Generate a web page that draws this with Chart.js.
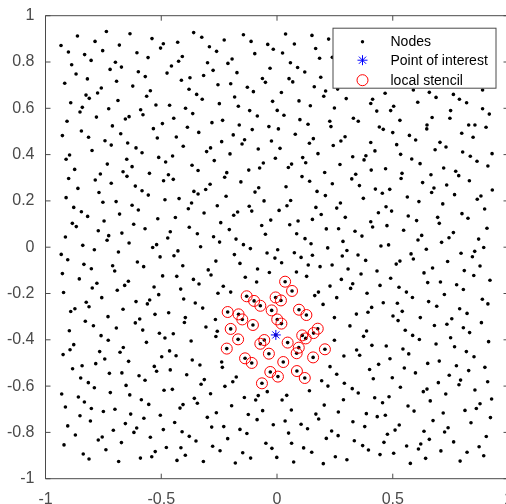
<!DOCTYPE html>
<html>
<head>
<meta charset="utf-8">
<title>Nodes and local stencil</title>
<script src="https://cdn.jsdelivr.net/npm/chart.js@4.4.1/dist/chart.umd.min.js"></script>
<style>
  html, body { margin: 0; padding: 0; background: #fff; overflow: hidden; }
  #wrap { width: 520px; height: 504px; }
</style>
</head>
<body>
<div id="wrap"><canvas id="nodesPlot"></canvas></div>
<script>
// scattered nodes, written band by band from the top left
const nodeX = [
  -0.933,-0.862,-0.901,-0.737,-0.786,-0.635,-0.681,-0.753,-0.831,-0.803,-0.887,-0.868,-0.917,-0.819,-0.698,-0.721,-0.672,-0.693,-0.605,-0.557,-0.540,-0.503,-0.491,-0.429,-0.409,-0.425,-0.456,-0.475,-0.599,-0.569,-0.623,-0.547,-0.563,-0.413,-0.376,-0.380,-0.759,-0.775,-0.825,-0.811,-0.891,-0.841,-0.851,-0.727,-0.687,-0.589,-0.579,-0.523,-0.464,-0.395,-0.907,-0.780,-0.655,-0.639,-0.711,-0.845,-0.534,-0.495,-0.446,-0.387,
  -0.360,-0.325,-0.292,-0.261,-0.228,-0.145,-0.112,-0.040,-0.016,0.024,-0.096,0.037,0.075,0.151,0.167,0.223,0.184,0.239,-0.300,-0.276,-0.317,-0.212,-0.194,-0.173,-0.030,0.058,0.089,0.120,-0.255,-0.200,-0.128,-0.102,-0.063,-0.050,0.052,0.068,0.189,0.161,0.210,0.202,0.262,0.299,-0.347,-0.323,-0.183,0.019,-0.019,0.095,0.144,0.248,-0.249,-0.167,-0.118,-0.085,0.001,0.030,-0.364,-0.235,-0.281,-0.163,-0.107,-0.035,0.006,0.099,0.134,0.228,0.233,-0.338,
  0.467,0.413,0.405,0.504,0.491,0.431,0.330,0.351,0.531,0.442,0.459,0.589,0.658,0.687,0.762,0.788,0.819,0.888,0.608,0.750,0.888,0.917,0.670,0.747,0.648,0.647,0.828,0.855,0.903,
  -0.927,-0.814,-0.675,-0.517,-0.435,-0.743,-0.716,-0.645,-0.609,-0.583,-0.799,-0.911,-0.896,-0.733,-0.649,-0.511,-0.481,-0.451,-0.405,-0.874,-0.763,-0.785,-0.665,-0.626,-0.648,-0.551,-0.469,-0.448,-0.490,-0.367,-0.900,-0.860,-0.716,-0.612,-0.583,-0.556,-0.911,-0.769,-0.752,-0.695,-0.680,-0.626,-0.599,-0.484,-0.423,-0.383,-0.369,-0.878,-0.845,-0.818,-0.884,-0.867,-0.747,-0.772,-0.727,-0.734,-0.670,-0.619,-0.570,-0.515,-0.439,-0.379,-0.461,-0.472,-0.520,-0.537,-0.914,-0.839,-0.789,-0.639,-0.685,-0.428,
  -0.189,0.079,0.157,0.140,0.294,0.276,0.243,-0.239,-0.140,-0.151,-0.024,-0.287,-0.304,-0.203,-0.081,0.013,-0.271,-0.341,-0.217,-0.226,-0.156,-0.122,-0.075,-0.059,-0.007,0.049,0.063,0.111,0.124,0.177,0.272,0.108,0.141,0.206,0.239,0.323,-0.359,-0.341,-0.308,-0.289,-0.220,-0.095,-0.079,0.039,0.173,0.209,-0.258,-0.315,-0.187,-0.170,-0.120,-0.109,-0.056,0.009,0.043,0.059,0.168,0.191,0.258,0.274,0.295,-0.243,-0.206,-0.066,-0.027,0.055,0.091,0.153,0.213,0.266,-0.344,-0.274,-0.248,-0.177,-0.145,-0.115,-0.050,0.085,0.121,0.147,0.219,0.285,0.302,-0.330,0.003,
  0.500,0.572,0.599,0.798,0.847,0.405,0.423,0.384,0.376,0.327,0.517,0.534,0.582,0.618,0.704,0.730,0.683,0.802,0.835,0.864,0.929,0.911,0.340,0.407,0.469,0.540,0.536,0.629,0.665,0.678,0.668,0.720,0.733,0.772,0.785,0.831,0.767,0.865,0.881,0.930,0.897,0.356,0.425,0.455,0.487,0.373,0.563,0.613,0.716,0.471,0.495,0.438,0.567,0.603,0.694,0.701,0.799,0.825,0.405,0.413,0.475,0.547,0.337,0.367,0.625,0.609,0.762,0.743,0.711,0.907,0.871,0.893,0.449,0.482,0.645,0.854,
  -0.932,-0.904,-0.505,-0.445,-0.834,-0.802,-0.710,-0.701,-0.603,-0.576,-0.407,-0.927,-0.854,-0.494,-0.433,-0.798,-0.778,-0.922,-0.690,-0.658,-0.642,-0.531,-0.511,-0.416,-0.403,-0.757,-0.824,-0.812,-0.609,-0.560,-0.550,-0.891,-0.873,-0.665,-0.730,-0.527,-0.468,-0.396,-0.400,-0.828,-0.793,-0.612,-0.593,-0.694,-0.580,-0.897,-0.760,-0.729,-0.564,-0.508,-0.484,-0.448,-0.371,-0.878,-0.894,-0.924,-0.766,-0.664,-0.678,-0.744,-0.641,-0.464,-0.436,-0.498,-0.366,-0.883,-0.842,-0.783,-0.530,-0.520,-0.461,
  -0.184,-0.043,-0.009,0.075,0.104,0.153,0.282,-0.264,-0.160,-0.297,-0.285,-0.361,-0.337,-0.137,-0.084,-0.033,0.020,0.084,0.128,0.135,0.186,0.238,0.307,0.278,-0.232,-0.255,-0.200,-0.088,0.179,0.163,0.229,-0.353,-0.321,0.199,0.258,0.248,-0.266,-0.307,-0.258,-0.264,0.248,0.289,-0.239,-0.236,-0.333,0.229,
  0.350,0.383,0.579,0.589,0.515,0.531,0.795,0.844,0.737,0.877,0.363,0.432,0.491,0.635,0.672,0.809,0.850,0.920,0.327,0.445,0.389,0.527,0.559,0.585,0.651,0.706,0.776,0.805,0.723,0.459,0.520,0.541,0.655,0.690,0.409,0.343,0.393,0.501,0.523,0.619,0.789,0.821,0.887,0.911,0.755,0.734,0.680,0.883,0.805,0.832,0.387,0.374,0.554,0.586,0.615,0.750,0.687,0.767,0.914,0.410,0.472,0.544,0.569,0.344,0.357,0.488,0.439,0.400,0.550,0.651,0.701,0.818,0.851,0.775,0.828,0.898,0.318,0.315,
  -0.724,-0.670,-0.596,-0.570,-0.390,-0.848,-0.815,-0.789,-0.652,-0.930,-0.720,-0.636,-0.858,-0.832,-0.914,-0.802,-0.750,-0.700,-0.586,-0.554,-0.488,-0.452,-0.419,-0.406,-0.851,-0.806,-0.632,-0.575,-0.504,-0.904,-0.655,-0.618,-0.606,-0.491,-0.442,-0.410,-0.379,-0.871,-0.707,-0.547,-0.772,-0.755,-0.672,-0.920,-0.739,-0.478,-0.415,-0.837,-0.812,-0.684,-0.590,-0.541,-0.526,-0.432,-0.396,
  -0.328,-0.314,-0.225,-0.191,-0.176,-0.042,-0.357,-0.344,-0.287,-0.141,-0.092,-0.081,0.022,0.042,0.140,0.193,0.220,0.258,0.291,0.325,-0.196,-0.062,0.062,0.204,0.287,0.265,-0.301,-0.262,-0.124,-0.086,0.035,0.168,0.180,-0.282,-0.230,-0.160,-0.130,-0.016,0.104,0.132,0.050,0.236,0.264,0.213,-0.350,-0.278,-0.246,-0.213,-0.148,-0.048,-0.022,0.063,0.115,0.150,-0.114,-0.001,-0.318,-0.180,0.072,0.200,0.252,0.302,
  0.598,0.416,0.498,0.744,0.793,0.786,0.697,0.910,0.351,0.533,0.632,0.648,0.729,0.855,0.422,0.456,0.484,0.662,0.927,0.877,0.861,0.566,0.592,0.812,0.718,0.386,0.433,0.468,0.328,0.379,0.674,0.838,0.922,0.528,0.510,0.477,0.635,0.724,0.739,0.763,0.904,0.334,0.370,0.395,0.462,0.445,0.504,0.560,0.621,0.611,0.658,0.708,0.642,0.576,0.821,0.873,0.893,0.791
];
const nodeY = [
  0.871,0.912,0.843,0.932,0.889,0.922,0.873,0.849,0.832,0.807,0.788,0.748,0.708,0.727,0.799,0.768,0.778,0.717,0.840,0.819,0.901,0.860,0.879,0.885,0.824,0.803,0.783,0.752,0.758,0.737,0.696,0.676,0.652,0.721,0.732,0.682,0.688,0.666,0.657,0.643,0.624,0.604,0.584,0.598,0.634,0.594,0.572,0.614,0.613,0.600,0.544,0.562,0.554,0.564,0.524,0.502,0.512,0.534,0.557,0.518,
  0.927,0.907,0.866,0.846,0.895,0.918,0.889,0.876,0.855,0.839,0.836,0.921,0.878,0.915,0.858,0.899,0.816,0.820,0.797,0.764,0.742,0.794,0.813,0.754,0.773,0.797,0.776,0.757,0.702,0.706,0.691,0.672,0.729,0.712,0.728,0.714,0.734,0.693,0.675,0.652,0.683,0.642,0.660,0.639,0.649,0.668,0.630,0.632,0.611,0.601,0.620,0.609,0.590,0.567,0.591,0.570,0.577,0.548,0.538,0.528,0.508,0.521,0.511,0.551,0.531,0.544,0.521,0.496,
  0.665,0.639,0.621,0.609,0.590,0.588,0.557,0.544,0.548,0.519,0.509,0.679,0.669,0.647,0.660,0.639,0.624,0.679,0.626,0.590,0.598,0.575,0.560,0.557,0.528,0.511,0.528,0.528,0.518,
  0.482,0.475,0.490,0.472,0.476,0.460,0.441,0.450,0.429,0.408,0.418,0.380,0.398,0.359,0.380,0.388,0.368,0.394,0.436,0.336,0.316,0.290,0.326,0.348,0.306,0.319,0.313,0.293,0.287,0.354,0.297,0.254,0.276,0.264,0.244,0.225,0.214,0.236,0.194,0.197,0.143,0.181,0.161,0.205,0.210,0.166,0.191,0.172,0.153,0.133,0.103,0.089,0.113,0.071,0.050,0.030,0.061,0.099,0.080,0.123,0.128,0.086,0.067,0.040,0.011,-0.001,0.044,0.008,-0.011,0.018,-0.021,-0.016,
  0.485,0.488,0.469,0.449,0.477,0.459,0.439,0.456,0.464,0.446,0.459,0.429,0.413,0.403,0.424,0.427,0.374,0.331,0.322,0.302,0.282,0.333,0.342,0.364,0.384,0.344,0.359,0.387,0.365,0.404,0.357,0.305,0.285,0.323,0.274,0.295,0.241,0.230,0.249,0.272,0.220,0.238,0.257,0.261,0.241,0.223,0.179,0.148,0.138,0.152,0.177,0.156,0.200,0.159,0.179,0.202,0.172,0.141,0.169,0.191,0.129,0.106,0.076,0.094,0.117,0.097,0.113,0.120,0.079,0.080,0.058,0.045,0.022,0.035,0.011,-0.006,0.056,0.058,0.037,0.015,-0.003,0.025,-0.014,0.002,-0.011,
  0.495,0.483,0.463,0.492,0.475,0.452,0.416,0.395,0.377,0.391,0.443,0.401,0.381,0.361,0.453,0.433,0.421,0.411,0.393,0.371,0.404,0.351,0.315,0.333,0.339,0.319,0.297,0.279,0.313,0.256,0.236,0.342,0.269,0.328,0.309,0.287,0.227,0.207,0.221,0.247,0.165,0.266,0.251,0.233,0.250,0.211,0.217,0.197,0.187,0.175,0.156,0.149,0.135,0.115,0.129,0.103,0.145,0.125,0.110,0.087,0.093,0.073,0.069,0.048,0.051,0.031,0.063,0.041,0.021,0.082,0.035,-0.001,0.005,0.010,-0.009,-0.018,
  -0.031,-0.054,-0.042,-0.037,-0.074,-0.093,-0.080,-0.103,-0.064,-0.084,-0.080,-0.114,-0.137,-0.124,-0.126,-0.176,-0.156,-0.196,-0.186,-0.165,-0.147,-0.172,-0.205,-0.181,-0.224,-0.218,-0.238,-0.257,-0.235,-0.245,-0.228,-0.278,-0.266,-0.268,-0.300,-0.290,-0.283,-0.304,-0.325,-0.320,-0.339,-0.327,-0.310,-0.349,-0.358,-0.361,-0.382,-0.402,-0.411,-0.372,-0.392,-0.374,-0.405,-0.421,-0.443,-0.464,-0.451,-0.433,-0.454,-0.483,-0.493,-0.448,-0.469,-0.473,-0.487,-0.525,-0.512,-0.503,-0.515,-0.536,-0.530,
  -0.032,-0.025,-0.047,-0.024,-0.044,-0.035,-0.038,-0.060,-0.070,-0.098,-0.120,-0.139,-0.159,-0.130,-0.094,-0.109,-0.067,-0.107,-0.126,-0.077,-0.084,-0.077,-0.094,-0.139,-0.169,-0.199,-0.194,-0.150,-0.194,-0.209,-0.168,-0.241,-0.263,-0.247,-0.218,-0.304,-0.312,-0.345,-0.363,-0.386,-0.402,-0.470,-0.496,-0.519,-0.509,-0.516,
  -0.034,-0.057,-0.029,-0.051,-0.073,-0.060,-0.026,-0.041,-0.062,-0.081,-0.116,-0.103,-0.134,-0.111,-0.090,-0.101,-0.122,-0.143,-0.158,-0.165,-0.199,-0.173,-0.194,-0.217,-0.153,-0.150,-0.162,-0.183,-0.204,-0.240,-0.242,-0.277,-0.235,-0.255,-0.260,-0.289,-0.281,-0.297,-0.317,-0.304,-0.266,-0.286,-0.225,-0.245,-0.309,-0.333,-0.338,-0.326,-0.348,-0.369,-0.362,-0.385,-0.359,-0.381,-0.399,-0.391,-0.418,-0.430,-0.408,-0.424,-0.427,-0.440,-0.461,-0.444,-0.467,-0.482,-0.506,-0.528,-0.522,-0.502,-0.492,-0.451,-0.473,-0.512,-0.533,-0.519,-0.178,-0.340,
  -0.545,-0.543,-0.555,-0.575,-0.551,-0.565,-0.585,-0.607,-0.597,-0.634,-0.628,-0.638,-0.647,-0.669,-0.690,-0.697,-0.710,-0.700,-0.659,-0.679,-0.618,-0.614,-0.695,-0.680,-0.728,-0.751,-0.721,-0.739,-0.726,-0.772,-0.762,-0.800,-0.781,-0.788,-0.757,-0.797,-0.817,-0.811,-0.791,-0.821,-0.833,-0.820,-0.844,-0.854,-0.875,-0.865,-0.866,-0.893,-0.915,-0.926,-0.911,-0.905,-0.883,-0.921,-0.899,
  -0.592,-0.572,-0.601,-0.581,-0.561,-0.624,-0.653,-0.674,-0.633,-0.649,-0.660,-0.641,-0.660,-0.640,-0.620,-0.577,-0.600,-0.549,-0.588,-0.611,-0.685,-0.706,-0.703,-0.682,-0.659,-0.712,-0.735,-0.715,-0.723,-0.745,-0.751,-0.721,-0.742,-0.777,-0.775,-0.787,-0.805,-0.767,-0.765,-0.784,-0.803,-0.794,-0.814,-0.826,-0.837,-0.860,-0.879,-0.827,-0.888,-0.847,-0.869,-0.847,-0.867,-0.886,-0.911,-0.908,-0.926,-0.932,-0.928,-0.935,-0.905,-0.918,
  -0.543,-0.568,-0.564,-0.553,-0.574,-0.594,-0.585,-0.581,-0.630,-0.605,-0.624,-0.613,-0.634,-0.617,-0.650,-0.672,-0.646,-0.664,-0.656,-0.676,-0.697,-0.686,-0.708,-0.705,-0.716,-0.719,-0.732,-0.726,-0.754,-0.775,-0.749,-0.758,-0.736,-0.768,-0.790,-0.808,-0.795,-0.798,-0.780,-0.841,-0.818,-0.836,-0.857,-0.876,-0.843,-0.896,-0.890,-0.859,-0.850,-0.872,-0.830,-0.880,-0.912,-0.934,-0.886,-0.862,-0.901,-0.924
];

// nodes that form the local stencil around the point of interest
const stencilX = [0.035,0.065,-0.131,-0.099,-0.072,-0.006,0.017,-0.023,0.095,0.127,-0.213,-0.166,-0.150,-0.104,0.001,0.019,0.176,0.158,0.109,0.124,-0.200,-0.168,-0.055,-0.072,0.046,-0.217,-0.035,0.094,0.085,0.207,0.156,-0.138,-0.109,0.027,-0.029,0.086,0.004,-0.065,0.120];
const stencilY = [-0.149,-0.189,-0.212,-0.232,-0.253,-0.217,-0.230,-0.273,-0.270,-0.293,-0.280,-0.290,-0.312,-0.336,-0.312,-0.330,-0.352,-0.371,-0.381,-0.394,-0.353,-0.398,-0.401,-0.417,-0.412,-0.438,-0.460,-0.434,-0.458,-0.441,-0.476,-0.480,-0.500,-0.496,-0.539,-0.535,-0.559,-0.588,-0.565];

const poiX = [-0.005];
const poiY = [-0.379];

const xTicks = [-1, -0.5, 0, 0.5, 1];
const yTicks = [-1, -0.8, -0.6, -0.4, -0.2, 0, 0.2, 0.4, 0.6, 0.8, 1];

const toPoints = (xs, ys) => xs.map((x, i) => ({ x: x, y: ys[i] }));
const stencilPts = toPoints(stencilX, stencilY);
const poiPts = toPoints(poiX, poiY);
const allNodes = toPoints(nodeX, nodeY).concat(stencilPts, poiPts);

const FONT = "'Liberation Sans', Arial, Helvetica, sans-serif";
const AXIS_COLOR = '#4a4a4a';
const fmtTick = v => String(+Number(v).toFixed(2));

// box around the axes with inward ticks on all four sides
const axesBox = {
  id: 'axesBox',
  afterDatasetsDraw(chart) {
    const { ctx, chartArea: a, scales } = chart;
    const len = 5;
    ctx.save();
    ctx.strokeStyle = AXIS_COLOR;
    ctx.lineWidth = 1;
    ctx.beginPath();
    ctx.rect(a.left, a.top, a.right - a.left, a.bottom - a.top);
    xTicks.forEach(v => {
      const px = scales.x.getPixelForValue(v);
      ctx.moveTo(px, a.bottom); ctx.lineTo(px, a.bottom - len);
      ctx.moveTo(px, a.top); ctx.lineTo(px, a.top + len);
    });
    yTicks.forEach(v => {
      const py = scales.y.getPixelForValue(v);
      ctx.moveTo(a.left, py); ctx.lineTo(a.left + len, py);
      ctx.moveTo(a.right, py); ctx.lineTo(a.right - len, py);
    });
    ctx.stroke();
    ctx.restore();
  }
};

// legend box in the top right corner of the axes
const boxLegend = {
  id: 'boxLegend',
  afterDraw(chart) {
    const { ctx, chartArea: a } = chart;
    const w = 163, h = 60;
    const left = a.right - 12.5 - w, top = a.top + 12.5;
    ctx.save();
    ctx.fillStyle = '#fff';
    ctx.fillRect(left, top, w, h);
    ctx.strokeStyle = AXIS_COLOR;
    ctx.lineWidth = 1;
    ctx.strokeRect(left, top, w, h);

    const rows = [13.5, 32, 52];
    const sx = left + 29.5;
    chart.data.datasets.forEach((ds, i) => {
      const y = top + rows[i];
      ctx.beginPath();
      if (ds.pointStyle === 'star') {
        const r = 5;
        ctx.strokeStyle = ds.pointBorderColor;
        ctx.moveTo(sx - r, y); ctx.lineTo(sx + r, y);
        ctx.moveTo(sx, y - r); ctx.lineTo(sx, y + r);
        const d = r * 0.72;
        ctx.moveTo(sx - d, y - d); ctx.lineTo(sx + d, y + d);
        ctx.moveTo(sx - d, y + d); ctx.lineTo(sx + d, y - d);
        ctx.stroke();
      } else if (ds.pointBorderWidth > 0) {
        ctx.strokeStyle = ds.pointBorderColor;
        ctx.arc(sx, y, 5.5, 0, Math.PI * 2);
        ctx.stroke();
      } else {
        ctx.fillStyle = ds.pointBackgroundColor;
        ctx.arc(sx, y, 1.7, 0, Math.PI * 2);
        ctx.fill();
      }
      ctx.fillStyle = '#000';
      ctx.font = '14px ' + FONT;
      ctx.textBaseline = 'middle';
      ctx.textAlign = 'left';
      ctx.fillText(ds.label, left + 57.5, y + 0.5);
    });
    ctx.restore();
  }
};

const config = {
  type: 'scatter',
  data: {
    datasets: [
      {
        label: 'Nodes',
        data: allNodes,
        pointRadius: 1.8,
        pointBackgroundColor: '#000',
        pointBorderWidth: 0,
        order: 3
      },
      {
        label: 'Point of interest',
        data: poiPts,
        pointStyle: 'star',
        pointRadius: 5,
        pointBorderColor: '#0000ff',
        pointBorderWidth: 1,
        order: 1
      },
      {
        label: 'local stencil',
        data: stencilPts,
        pointStyle: 'circle',
        pointRadius: 5.5,
        pointBackgroundColor: 'rgba(0,0,0,0)',
        pointBorderColor: '#ff0000',
        pointBorderWidth: 1,
        order: 2
      }
    ]
  },
  options: {
    animation: false,
    responsive: true,
    maintainAspectRatio: false,
    devicePixelRatio: 1,
    layout: { padding: { top: 15.7, right: 11.5, left: 0, bottom: 0 } },
    plugins: {
      legend: { display: false },
      tooltip: { enabled: false }
    },
    scales: {
      x: {
        type: 'linear',
        min: -1,
        max: 1,
        afterBuildTicks: s => { s.ticks = xTicks.map(v => ({ value: v })); },
        afterFit: s => { s.height = 25.3; s.paddingLeft = 0; s.paddingRight = 0; },
        grid: { display: false, drawTicks: false },
        border: { display: false },
        ticks: { color: AXIS_COLOR, padding: 11, maxRotation: 0, callback: fmtTick, font: { family: FONT, size: 16 } }
      },
      y: {
        type: 'linear',
        min: -1,
        max: 1,
        afterBuildTicks: s => { s.ticks = yTicks.map(v => ({ value: v })); },
        afterFit: s => { s.width = 45.5; s.paddingTop = 0; s.paddingBottom = 0; },
        grid: { display: false, drawTicks: false },
        border: { display: false },
        ticks: { color: AXIS_COLOR, padding: 11, callback: fmtTick, font: { family: FONT, size: 16 } }
      }
    }
  },
  plugins: [axesBox, boxLegend]
};

window.addEventListener('load', function () {
  const ctx = document.getElementById('nodesPlot').getContext('2d');
  const nodesChart = new Chart(ctx, config);
});
</script>
</body>
</html>
